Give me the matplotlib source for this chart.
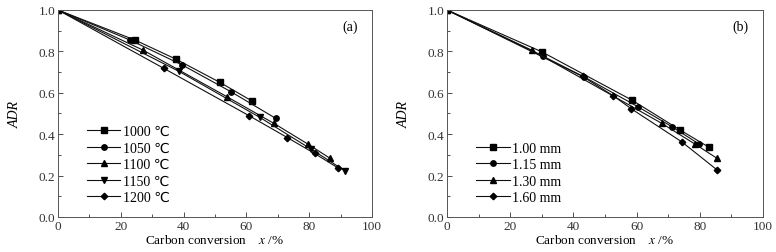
import matplotlib
matplotlib.use('Agg')
import matplotlib.pyplot as plt
from matplotlib.ticker import MultipleLocator, FormatStrFormatter

plt.rcParams['font.family'] = ['Liberation Serif', 'DejaVu Sans']
plt.rcParams['mathtext.fontset'] = 'stix'

# panel (a): temperature
temp_labels = ['1000 ℃', '1050 ℃', '1100 ℃', '1150 ℃', '1200 ℃']
temp_x = [
    [0, 24.5, 37.5, 51.6, 61.7],
    [0, 22.9, 39.5, 55.1, 69.4],
    [0, 27.1, 53.7, 68.8, 79.6, 86.7],
    [0, 38.6, 64.3, 80.6, 91.4],
    [0, 33.7, 60.9, 73.0, 81.7, 89.3],
]
temp_y = [
    [1.0, 0.855, 0.763, 0.650, 0.561],
    [1.0, 0.855, 0.735, 0.605, 0.476],
    [1.0, 0.806, 0.582, 0.452, 0.352, 0.283],
    [1.0, 0.703, 0.481, 0.328, 0.223],
    [1.0, 0.718, 0.489, 0.384, 0.307, 0.236],
]

# panel (b): particle size
size_labels = ['1.00 mm', '1.15 mm', '1.30 mm', '1.60 mm']
size_x = [
    [0, 30.0, 58.6, 73.7, 83.0],
    [0, 30.5, 43.5, 60.5, 71.1, 79.8],
    [0, 26.8, 67.9, 78.5, 85.5],
    [0, 42.9, 52.6, 58.2, 74.3, 85.5],
]
size_y = [
    [1.0, 0.798, 0.564, 0.421, 0.336],
    [1.0, 0.776, 0.676, 0.532, 0.437, 0.352],
    [1.0, 0.806, 0.453, 0.352, 0.283],
    [1.0, 0.679, 0.586, 0.524, 0.363, 0.227],
]

markers_a = ['s', 'o', '^', 'v', 'D']
markers_b = ['s', 'o', '^', 'D']

fig = plt.figure(figsize=(7.76, 2.53), dpi=100)
W, H = 776, 253
ax1 = fig.add_axes([58 / W, 1 - 218 / H, 314 / W, 207 / H])
ax2 = fig.add_axes([447 / W, 1 - 218 / H, 316 / W, 207 / H])


def draw(ax, xs, ys, labels, markers, tag):
    for x, y, lab, m in zip(xs, ys, labels, markers):
        ms = 3.3 if m == 'D' else 3.9
        ax.plot(x, y, color='#111111', lw=0.8, marker=m, ms=ms,
                mfc='black', mec='black', label=lab)
    ax.set_xlim(0, 100)
    ax.set_ylim(0, 1.0)
    ax.xaxis.set_major_locator(MultipleLocator(20))
    ax.xaxis.set_minor_locator(MultipleLocator(10))
    ax.yaxis.set_major_locator(MultipleLocator(0.2))
    ax.yaxis.set_minor_locator(MultipleLocator(0.1))
    ax.xaxis.set_major_formatter(FormatStrFormatter('%d'))
    ax.yaxis.set_major_formatter(FormatStrFormatter('%.1f'))
    ax.tick_params(which='both', direction='in', top=False, right=False,
                   labelsize=9.5, colors='#333333', pad=2)
    ax.tick_params(which='major', length=3.5, width=0.6)
    ax.tick_params(which='minor', length=2, width=0.6)
    for s in ax.spines.values():
        s.set_color('#555555')
        s.set_linewidth(0.7)
    ax.set_ylabel('ADR', fontsize=10, style='italic', labelpad=12)
    ax.set_xlabel('Carbon conversion    $\\it{x}$ /%', fontsize=9.5, labelpad=1)
    ax.text(0.93, 0.92, tag, transform=ax.transAxes, fontsize=10,
            ha='center', va='center')
    ax.legend(loc='lower left', frameon=False, fontsize=10, handlelength=2.4,
              handletextpad=0.15, labelspacing=0.25, borderaxespad=0.0,
              bbox_to_anchor=(0.075, 0.035))


draw(ax1, temp_x, temp_y, temp_labels, markers_a, '(a)')
draw(ax2, size_x, size_y, size_labels, markers_b, '(b)')

fig.savefig('out.png', dpi=100)
